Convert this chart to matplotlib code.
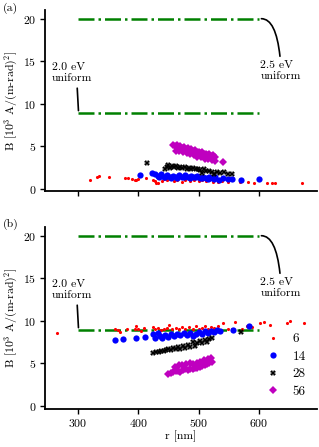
import numpy as np
import matplotlib
matplotlib.use("Agg")
import matplotlib.pyplot as plt

plt.rcParams['font.family'] = 'cmr10'
plt.rcParams['mathtext.fontset'] = 'cm'
plt.rcParams['axes.unicode_minus'] = False
plt.rcParams['axes.formatter.use_mathtext'] = True
plt.rcParams['font.size'] = 8.5

# uniform emission reference lines
line_r = [300, 600]
B_uniform_25 = 20.0
B_uniform_20 = 8.9

# panel (a)
a6_r = [320, 332, 335, 351, 378, 383, 389, 394, 397, 400, 413, 424, 427, 430, 433, 439, 442, 448, 455, 460,
        464, 472, 478, 485, 492, 500, 506, 512, 518, 524, 532, 538, 549, 555, 569, 582, 591, 613, 621, 627, 671]
a6_B = [1.0, 1.35, 1.5, 1.4, 1.3, 1.3, 1.2, 1.05, 1.1, 1.2, 1.25, 1.05, 0.98, 0.7, 0.75, 0.95, 1.2, 1.0, 1.3, 0.9,
        1.05, 0.85, 1.1, 0.95, 1.0, 0.9, 1.05, 0.9, 1.0, 0.85, 0.85, 0.95, 0.85, 1.0, 0.85, 0.85, 0.7, 0.75, 0.75, 0.75, 0.67]

a14_r = [403, 422, 427, 432, 438, 443, 448, 452, 457, 462, 467, 472, 477, 482, 487, 492, 497, 502, 507, 512,
         517, 522, 527, 533, 540, 548, 556, 570, 600, 435, 445, 455, 465, 475, 485, 495, 505, 515, 525]
a14_B = [1.65, 1.9, 1.8, 1.55, 1.7, 1.45, 1.6, 1.38, 1.55, 1.45, 1.6, 1.35, 1.6, 1.45, 1.5, 1.35, 1.5, 1.3, 1.45, 1.3,
         1.4, 1.25, 1.35, 1.1, 1.3, 1.2, 1.2, 1.0, 1.15, 1.4, 1.35, 1.3, 1.3, 1.4, 1.3, 1.4, 1.25, 1.2, 1.2]

a28_r = [415, 444, 447, 450, 453, 456, 460, 463, 466, 470, 473, 477, 480, 484, 487, 491, 495, 499, 502, 505,
         509, 513, 517, 522, 526, 530, 535, 542, 548, 555]
a28_B = [3.0, 2.3, 2.6, 2.8, 2.5, 2.7, 2.55, 2.65, 2.45, 2.6, 2.5, 2.55, 2.4, 2.5, 2.35, 2.45, 2.3, 2.4, 2.2, 1.9,
         2.3, 2.1, 2.15, 2.05, 1.8, 2.0, 1.9, 1.95, 1.75, 1.8]

a56_r = [458, 461, 464, 467, 470, 473, 476, 479, 482, 485, 488, 491, 494, 497, 500, 503, 506, 509, 512, 515,
         518, 521, 524, 527, 541, 462, 468, 474, 480, 486, 492, 498, 504, 510, 516, 522, 527]
a56_B = [5.2, 5.1, 5.15, 4.95, 5.0, 4.85, 4.9, 4.7, 4.8, 4.6, 4.65, 4.5, 4.55, 4.35, 4.4, 4.25, 4.3, 4.1, 4.15, 4.0,
         4.05, 3.9, 3.95, 3.8, 3.2, 4.5, 4.45, 4.35, 4.2, 4.05, 3.95, 3.8, 3.7, 3.55, 3.5, 3.4, 3.3]

# panel (b)
b6_r = [266, 361, 366, 370, 381, 394, 397, 400, 404, 410, 425, 428, 432, 438, 443, 447, 451, 456, 462, 468,
        473, 478, 484, 490, 495, 500, 505, 510, 515, 520, 526, 532, 541, 548, 555, 560, 572, 580, 588, 602,
        609, 619, 646, 652, 675]
b6_B = [8.55, 9.05, 8.95, 8.7, 9.0, 9.1, 9.35, 9.0, 8.85, 9.15, 9.3, 9.0, 9.15, 8.9, 9.1, 9.2, 9.55, 9.0, 9.2, 9.1,
        9.3, 9.05, 9.25, 9.0, 9.35, 9.1, 9.2, 9.45, 9.0, 9.3, 9.2, 9.4, 9.75, 9.1, 9.0, 9.9, 9.0, 9.35, 9.3, 9.8,
        9.9, 9.5, 9.8, 9.95, 9.7]

b14_r = [361, 374, 396, 412, 425, 428, 432, 436, 440, 445, 450, 455, 460, 465, 470, 475, 480, 485, 490, 495,
         500, 505, 510, 515, 520, 525, 530, 535, 557, 583]
b14_B = [7.7, 7.9, 8.0, 8.15, 8.4, 8.0, 8.55, 8.2, 7.95, 8.3, 8.1, 8.4, 8.2, 8.5, 8.3, 8.55, 8.35, 8.6, 8.2, 8.5,
         8.65, 8.4, 8.75, 8.6, 8.8, 8.7, 8.9, 8.75, 8.9, 9.4]

b28_r = [425, 430, 434, 438, 442, 446, 450, 454, 458, 462, 466, 470, 474, 478, 482, 486, 490, 494, 498, 502,
         506, 510, 514, 518, 522, 571]
b28_B = [6.2, 6.35, 6.3, 6.5, 6.45, 6.6, 6.75, 6.55, 6.8, 6.65, 6.9, 6.75, 7.0, 6.85, 7.2, 6.95, 7.5, 7.1, 7.35, 7.6,
         7.45, 7.7, 7.55, 7.9, 8.0, 8.7]

b56_r = [450, 454, 458, 462, 466, 470, 474, 478, 482, 486, 490, 494, 498, 502, 506, 510, 514, 518, 522,
         461, 467, 473, 479, 485, 491, 497, 503, 509, 515, 521]
b56_B = [3.75, 3.9, 4.0, 4.1, 4.15, 4.05, 4.2, 4.3, 4.25, 4.4, 4.35, 4.5, 4.45, 4.6, 4.7, 4.8, 4.9, 5.0, 5.15,
         4.6, 4.8, 4.85, 4.9, 5.0, 4.95, 5.05, 5.2, 5.35, 5.5, 5.6]

labels = ["6", "14", "28", "56"]
styles = [dict(marker='.', color='r', ms=4.5),
          dict(marker='o', color='b', ms=4.5),
          dict(marker='X', color='k', ms=4),
          dict(marker='D', color='m', ms=3.8)]

panels = [[(a6_r, a6_B), (a14_r, a14_B), (a28_r, a28_B), (a56_r, a56_B)],
          [(b6_r, b6_B), (b14_r, b14_B), (b28_r, b28_B), (b56_r, b56_B)]]

fig = plt.figure(figsize=(3.19, 4.47), dpi=100)
ax1 = fig.add_axes([0.141, 0.5716, 0.8515, 0.405])
ax2 = fig.add_axes([0.141, 0.0861, 0.8515, 0.405], sharex=ax1, sharey=ax1)

for ax, data, tag, ty in zip([ax1, ax2], panels, ["(a)", "(b)"], [0.982, 0.497]):
    ax.plot(line_r, [B_uniform_25] * 2, '-.', color='green', lw=1.8)
    ax.plot(line_r, [B_uniform_20] * 2, '-.', color='green', lw=1.8)
    for (r, B), st, lab in zip(data, styles, labels):
        ax.plot(r, B, ls='none', mec=st['color'], mew=0, label=lab, **st)
    ax.annotate("2.0 eV\nuniform", xy=(301, 9.2), xytext=(257, 14.9), ha='left', va='top',
                arrowprops=dict(arrowstyle='-', color='k', lw=1.2, relpos=(0.62, 0), shrinkA=2, shrinkB=0))
    ax.annotate("2.5 eV\nuniform", xy=(604, 20), xytext=(602, 15.1), ha='left', va='top',
                arrowprops=dict(arrowstyle='-', color='k', lw=1.2, relpos=(0.5, 1), shrinkA=1, shrinkB=0,
                                connectionstyle="angle3,angleA=95,angleB=0"))
    ax.spines['top'].set_visible(False)
    ax.spines['right'].set_visible(False)
    ax.spines['left'].set_linewidth(1.3)
    ax.spines['bottom'].set_linewidth(1.3)
    ax.tick_params(direction='out', length=3.5, width=1, pad=2.5)
    ax.set_ylabel(r'B [$10^3$ A/(m-rad)$^2$]', labelpad=2)
    fig.text(0.01, ty, tag, ha='left', va='center')

ax1.set_xticks([300, 400, 500, 600])
ax1.set_yticks([0, 5, 10, 15, 20])
ax1.tick_params(labelbottom=False)
ax2.set_xlabel('r [nm]', labelpad=1.5)
ax2.legend(loc='lower right', frameon=False, handletextpad=0.5, labelspacing=0.4,
           fontsize=9.5, borderaxespad=0.4)

fig.savefig("out.png", dpi=100)
